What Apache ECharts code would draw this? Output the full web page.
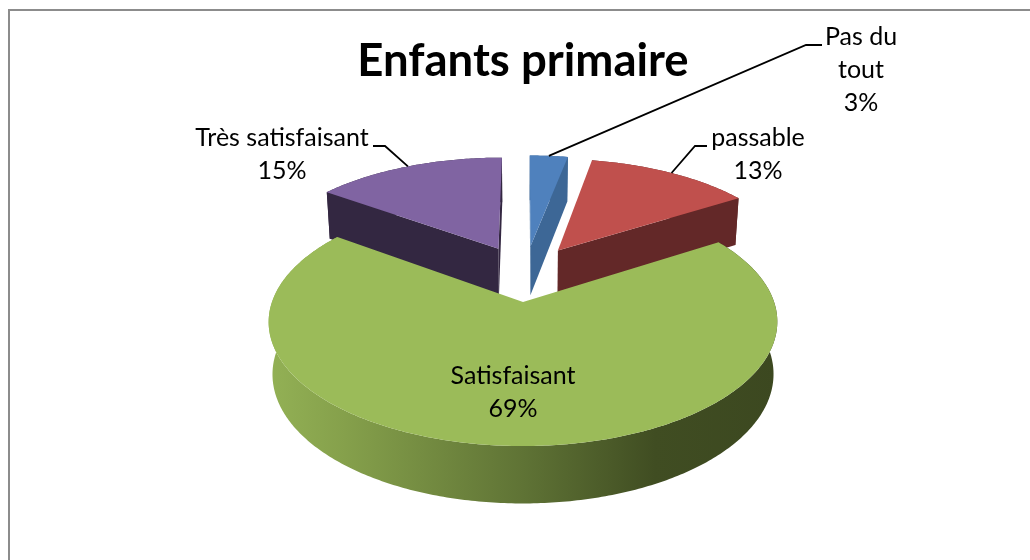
<!DOCTYPE html>
<html><head><meta charset="utf-8">
<style>html,body{margin:0;padding:0;background:#fff}#c{width:1030px;height:560px}</style>
<script src="https://cdn.jsdelivr.net/npm/echarts@6/dist/echarts.min.js"></script>
</head><body><div id="c"></div>
<script>
const titleText = 'Enfants primaire';
const categories = ['Pas du\ntout', 'passable', 'Satisfaisant', 'Très satisfaisant'];
const percents = [3, 13, 69, 15];

const topColors = ['#4F81BD', '#C0504D', '#9BBB59', '#8064A2'];
const faceColors = ['#3D6796', '#632828', '#4F5F2D', '#332741'];
const sideColors = ['#3D6796', '#632828', null, '#332741'];
const FONT = 'Lato, "Open Sans", sans-serif';
const view = {cx: 525, cy: 273, A: 241.5, B: 112, k: 0.153, explode: 0.25, depth: 50.2, depthK: 0.1, shrink: 0.985};
const labelLayout = [
  {x: 861, y: 70, elbow: [[806, 45], [822, 45]]},
  {x: 758, y: 154, elbow: [[695, 146], [707, 146]]},
  {x: 513, y: 392, elbow: null},
  {x: 282, y: 154, elbow: [[385, 146], [373, 146]]}
];
const total = percents.reduce((a, b) => a + b, 0);
const startAngles = percents.map((_, i) => percents.slice(0, i).reduce((a, b) => a + b, 0) / total * 2 * Math.PI);

function project(u, v) {
  const d = 1 - view.k * v;
  return [view.cx + view.A * u / d, view.cy + view.B * v / d, v];
}
function extrude(p) {
  return [view.cx + (p[0] - view.cx) * view.shrink, p[1] + view.depth / (1 - view.depthK * p[2])];
}
function cross(a, b, c) { return (b[0] - a[0]) * (c[1] - a[1]) - (b[1] - a[1]) * (c[0] - a[0]); }

const greenGradient = {type: 'linear', x: 0, y: 0, x2: 1, y2: 0, colorStops: [
  {offset: 0, color: '#93B155'}, {offset: 0.15, color: '#85A04B'}, {offset: 0.5, color: '#5F7335'},
  {offset: 0.76, color: '#404D22'}, {offset: 1, color: '#3C4820'}]};

function renderItem(params, api) {
  const i = params.dataIndex;
  const val = api.value(0);
  const a0 = startAngles[i], a1 = a0 + val / total * 2 * Math.PI, mid = (a0 + a1) / 2;
  const u0 = view.explode * Math.sin(mid), v0 = -view.explode * Math.cos(mid);
  const at = t => project(u0 + Math.sin(t), v0 - Math.cos(t));
  const apex = project(u0, v0);
  const arc = [];
  const n = Math.max(8, Math.round((a1 - a0) * 80));
  for (let s = 0; s <= n; s++) arc.push(at(a0 + (a1 - a0) * s / n));
  const z2 = i === 2 ? 10 : 1;
  const children = [];
  const xy = p => [p[0], p[1]];
  // outer wall
  children.push({type: 'polygon', z2, shape: {points: arc.map(xy).concat(arc.map(extrude).reverse())},
    style: {fill: i === 2 ? greenGradient : sideColors[i]}});
  // cut faces
  const inner = project(u0 + 0.5 * Math.sin(mid), v0 - 0.5 * Math.cos(mid));
  [arc[0], arc[arc.length - 1]].forEach(o => {
    const down = [o[0], o[1] + 10];
    if (cross(apex, o, inner) * cross(apex, o, down) < -1e-6) {
      children.push({type: 'polygon', z2, shape: {points: [xy(apex), xy(o), extrude(o), extrude(apex)]},
        style: {fill: faceColors[i]}});
    }
  });
  // top
  children.push({type: 'polygon', z2, shape: {points: [xy(apex)].concat(arc.map(xy))}, style: {fill: topColors[i]}});
  // leader + label
  const lay = labelLayout[i];
  if (lay.elbow) {
    const start = at(mid);
    children.push({type: 'polyline', z2: 20, shape: {points: [xy(start)].concat(lay.elbow)},
      style: {stroke: '#000', lineWidth: 1.8, fill: null}});
  }
  children.push({type: 'text', z2: 30, style: {
    text: categories[i] + '\n' + val + '%', x: lay.x, y: lay.y, align: 'center', verticalAlign: 'middle',
    font: '25px ' + FONT, lineHeight: 33, fill: '#000'}});
  return {type: 'group', children};
}

const chart = echarts.init(document.getElementById('c'));
chart.setOption({
  animation: false,
  backgroundColor: '#fff',
  title: {text: titleText, left: 518, top: 33, textAlign: 'center',
    textStyle: {fontFamily: FONT, fontWeight: 'bold', fontSize: 45.5, color: '#000'}},
  graphic: [{type: 'polyline', shape: {points: [[9, 600], [9, 10], [1060, 10]]},
    style: {stroke: '#8c8c8c', lineWidth: 2, fill: null}, silent: true}],
  series: [{type: 'custom', coordinateSystem: 'none', renderItem, silent: true,
    data: percents.map((p, i) => ({name: categories[i], value: [p]}))}]
});
</script></body></html>
